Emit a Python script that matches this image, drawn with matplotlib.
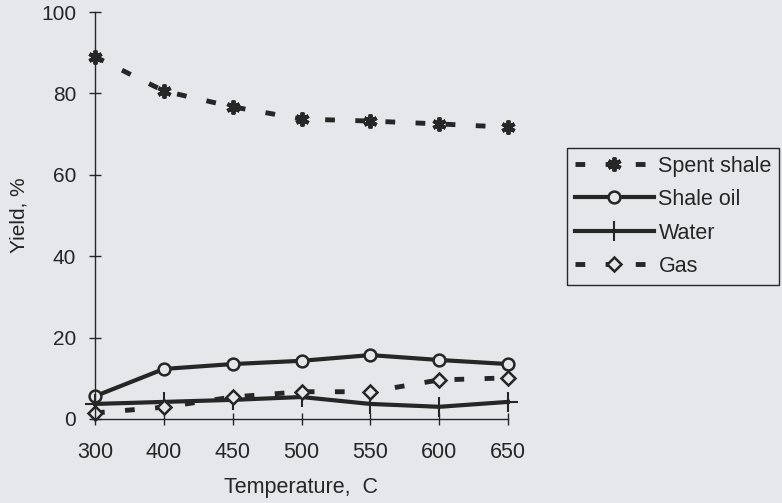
import matplotlib
matplotlib.use("Agg")
import matplotlib.pyplot as plt

plt.rcParams['font.family'] = ['Liberation Sans', 'DejaVu Sans']

temps = ["300", "400", "450", "500", "550", "600", "650"]
spent_shale = [89.0, 80.6, 76.7, 73.7, 73.2, 72.5, 71.7]
shale_oil = [5.6, 12.3, 13.5, 14.3, 15.7, 14.5, 13.5]
water = [3.7, 4.2, 4.7, 5.4, 3.7, 3.0, 4.2]
gas = [1.5, 2.9, 5.4, 6.7, 6.7, 9.6, 10.1]

bg = '#e6e7eb'
ink = '#262626'

fig = plt.figure(figsize=(7.82, 5.03), dpi=100, facecolor=bg)
ax = fig.add_axes([95/782, 1-419/503, (508-95)/782, (419-12)/503])
ax.set_facecolor(bg)

x = list(range(len(temps)))
dash = (0, (2.0, 4.2))
ax.plot(x, spent_shale, color=ink, lw=3.5, linestyle=dash,
        marker=(6, 2, 0), markersize=10, markeredgewidth=2.8,
        label='Spent shale', clip_on=False)
ax.plot(x, shale_oil, color=ink, lw=3, marker='o', markersize=8.5,
        markerfacecolor=bg, markeredgecolor=ink, markeredgewidth=1.8,
        label='Shale oil', clip_on=False)
ax.plot(x, water, color=ink, lw=3, marker='+', markersize=14,
        markeredgewidth=1.5, label='Water', clip_on=False)
ax.plot(x, gas, color=ink, lw=3.5, linestyle=dash, marker='D', markersize=7.5,
        markerfacecolor=bg, markeredgecolor=ink, markeredgewidth=1.8,
        label='Gas', clip_on=False)

ax.set_xlim(0, len(temps)-1)
ax.set_ylim(0, 100)
ax.set_xticks(x)
ax.set_xticklabels(temps)
ax.set_yticks([0, 20, 40, 60, 80, 100])
for s in ['top', 'right']:
    ax.spines[s].set_visible(False)
for s in ['left', 'bottom']:
    ax.spines[s].set_color(ink)
    ax.spines[s].set_linewidth(1.0)
ax.tick_params(axis='both', direction='inout', length=9, width=1.0,
               colors=ink)
ax.tick_params(axis='y', labelsize=15, pad=9)
ax.tick_params(axis='x', labelsize=15.5, pad=12)
ax.set_xlabel('Temperature,  C', fontsize=15.5, color=ink, labelpad=10)
ax.set_ylabel('Yield, %', fontsize=15, color=ink, labelpad=9)

leg = fig.legend(loc='upper left', bbox_to_anchor=(567/782, 1-148/503),
                 frameon=True, fancybox=False, fontsize=15.5, handlelength=3.7,
                 handletextpad=0.2, labelspacing=0.58, borderpad=0.35,
                 borderaxespad=0, numpoints=1)
leg.get_frame().set_edgecolor(ink)
leg.get_frame().set_facecolor(bg)
leg.get_frame().set_linewidth(1.0)
leg.get_frame().set_alpha(1)
for t in leg.get_texts():
    t.set_color(ink)

fig.savefig('out.png', dpi=100, facecolor=bg)
